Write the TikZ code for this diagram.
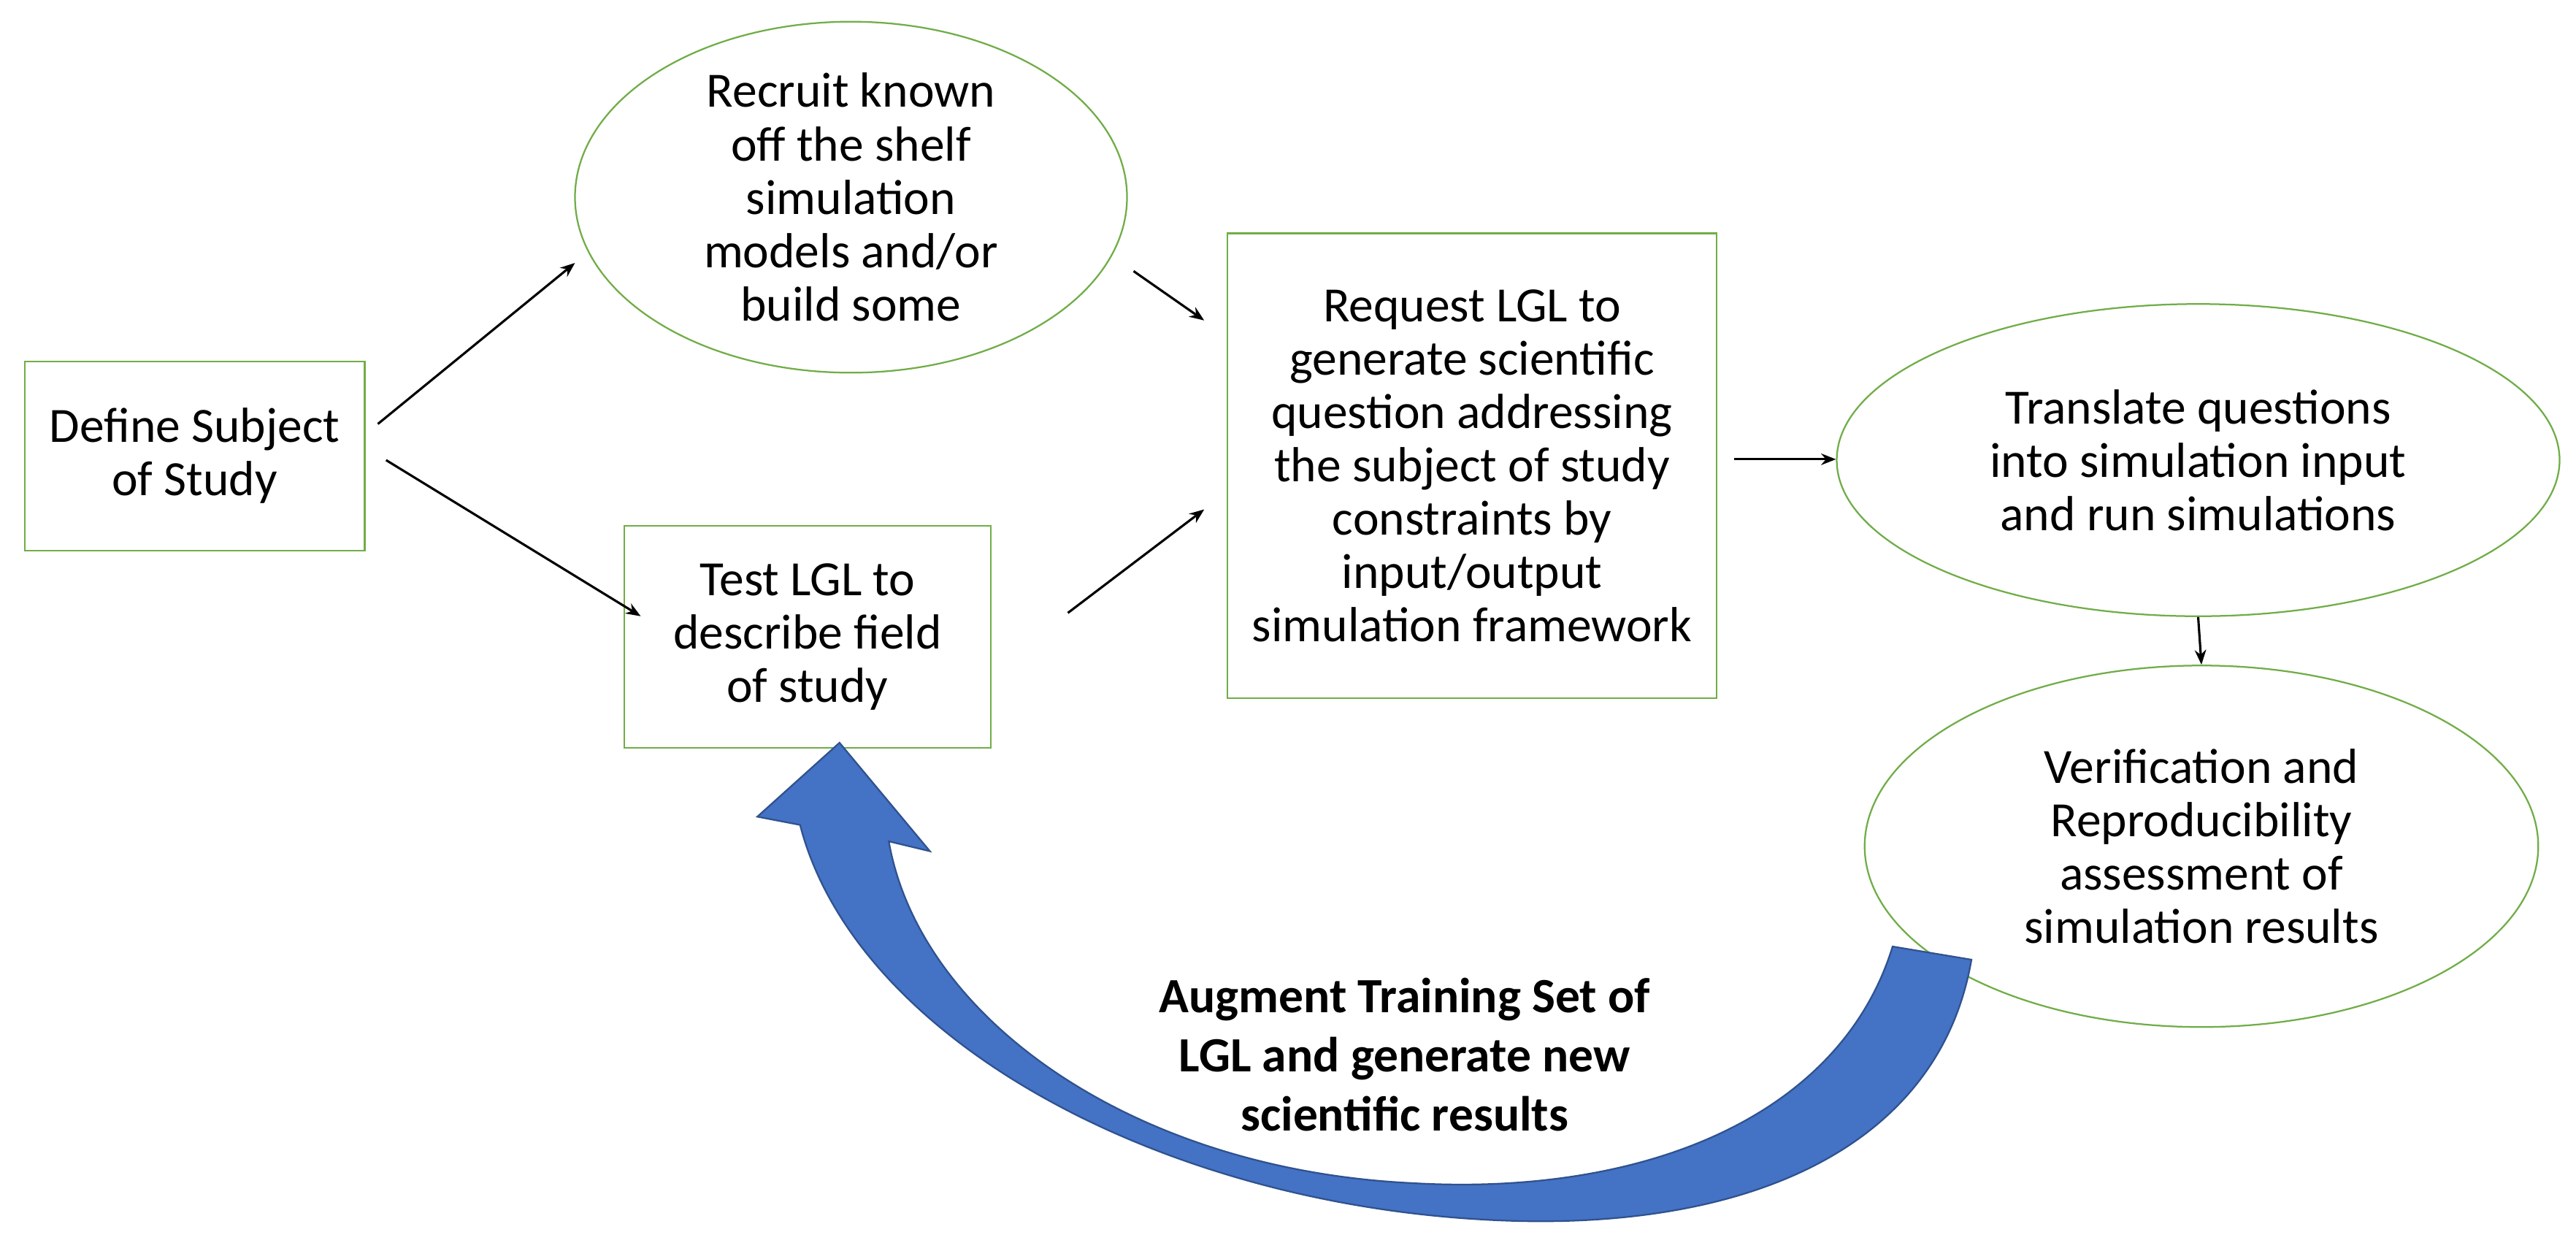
\documentclass[tikz,border=0pt]{standalone}
\usepackage{fontspec}
\setmainfont{Carlito}
\usetikzlibrary{shapes.geometric,arrows.meta}
\definecolor{grn}{HTML}{70AD47}
\definecolor{blu}{HTML}{4472C4}
\definecolor{dblu}{HTML}{2F528F}
\tikzset{
 txt/.style={font=\fontsize{30}{32.5}\selectfont, align=center, text=black},
 bx/.style={txt, draw=grn, line width=1pt, inner sep=0pt},
 el/.style={txt, draw=grn, line width=1pt, ellipse, inner sep=0pt},
 conn/.style={-{Stealth[length=9pt,width=7pt]}, line width=1.4pt}
}
\begin{document}
\begin{tikzpicture}[x=1pt,y=-1pt]
\useasboundingbox (0,0) rectangle (1568,756);
\fill[white] (0,0) rectangle (1568,756);
\node[bx, minimum width=207pt, minimum height=115pt] (def) at (118.5,277.5) {Define Subject\\of Study};
\node[el, minimum width=336pt, minimum height=210pt] (rec) at (518,120) {Recruit known\\off the shelf\\simulation\\models and/or\\build some};
\node[bx, minimum width=223pt, minimum height=135pt] (test) at (491.5,387.5) {Test LGL to\\describe field\\of study};
\node[bx, minimum width=298pt, minimum height=283pt] (req) at (896,283.5) {Request LGL to\\generate scientific\\question addressing\\the subject of study\\constraints by\\input/output\\simulation framework};
\node[el, minimum width=440pt, minimum height=190pt] (tr) at (1338,280) {Translate questions\\into simulation input\\and run simulations};
\node[el, minimum width=410pt, minimum height=220pt] (ver) at (1340,515) {Verification and\\Reproducibility\\assessment of\\simulation results};
\coordinate (a1) at (230,258); \coordinate (a2) at (350,160);
\coordinate (b1) at (235,280); \coordinate (b2) at (390,375);
\coordinate (c1) at (690,165); \coordinate (c2) at (733,195);
\coordinate (d1) at (650,373); \coordinate (d2) at (733,310);
\draw[conn] (a1) -- (a2);
\draw[conn] (b1) -- (b2);
\draw[conn] (c1) -- (c2);
\draw[conn] (d1) -- (d2);
\draw[conn] (req.east) ++(10,-4) coordinate (e1) -- (tr.west |- e1);
\draw[conn] (tr.south) -- (ver.north);
\filldraw[fill=blu, draw=dblu, line width=1pt]
 (511,452) -- (566,518) -- (541,512)
 .. controls (560,620) and (690,712) .. (860,720)
 .. controls (1000,728) and (1120,680) .. (1152,576)
 -- (1200,584)
 .. controls (1180,700) and (1060,752) .. (900,742)
 .. controls (700,730) and (520,630) .. (487,502)
 -- (461,497) -- cycle;
\node[txt, font=\fontsize{30}{36}\selectfont\bfseries] (aug) at (855,642) {Augment Training Set of\\LGL and generate new\\scientific results};
\end{tikzpicture}
\end{document}
